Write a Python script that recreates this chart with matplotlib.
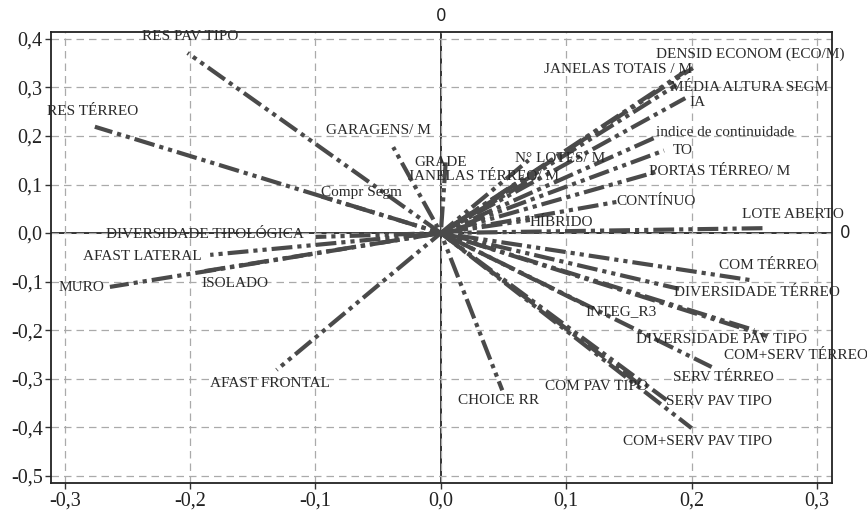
import numpy as np
import matplotlib
matplotlib.use('Agg')
import matplotlib.pyplot as plt
from matplotlib.ticker import FuncFormatter

# variable loadings (component 1, component 2)
variables = [
    'RES PAV TIPO', 'RES TÉRREO', 'Compr Segm', 'GARAGENS/ M', 'GRADE',
    'N° LOTES/ M', 'JANELAS TÉRREO/ M', 'DENSID ECONOM (ECO/M)', 'JANELAS TOTAIS / M',
    'MÉDIA ALTURA SEGM', 'IA', 'indice de continuidade', 'TO', 'PORTAS TÉRREO/ M',
    'CONTÍNUO', 'HÍBRIDO', 'LOTE ABERTO', 'DIVERSIDADE TIPOLÓGICA', 'AFAST LATERAL',
    'MURO', 'ISOLADO', 'AFAST FRONTAL', 'CHOICE RR', 'COM TÉRREO', 'DIVERSIDADE TÉRREO',
    'INTEG_R3', 'DIVERSIDADE PAV TIPO', 'COM+SERV TÉRREO', 'SERV TÉRREO',
    'COM PAV TIPO', 'SERV PAV TIPO', 'COM+SERV PAV TIPO',
]
comp1 = [-0.202, -0.276, -0.095, -0.038, 0.004, 0.070, 0.075, 0.201, 0.195,
         0.188, 0.195, 0.172, 0.178, 0.172, 0.140, 0.071, 0.257, -0.100, -0.184,
         -0.264, -0.192, -0.131, 0.049, 0.247, 0.190, 0.115, 0.250, 0.260, 0.216,
         0.159, 0.180, 0.200]
comp2 = [0.371, 0.219, 0.075, 0.177, 0.150, 0.150, 0.115, 0.340, 0.333,
         0.305, 0.278, 0.198, 0.170, 0.126, 0.064, 0.027, 0.010, -0.008, -0.045,
         -0.111, -0.080, -0.282, -0.324, -0.097, -0.115, -0.148, -0.200, -0.212, -0.276,
         -0.313, -0.344, -0.402]

# label anchors (x, y, horizontal alignment)
label_pos = [
    (-0.200, 0.404, 'center'), (-0.278, 0.250, 'center'), (-0.063, 0.084, 'center'),
    (-0.050, 0.212, 'center'), (0.000, 0.145, 'center'), (0.095, 0.154, 'center'),
    (0.034, 0.116, 'center'), (0.247, 0.368, 'center'), (0.141, 0.336, 'center'),
    (0.246, 0.300, 'center'), (0.198, 0.270, 'left'), (0.172, 0.208, 'left'),
    (0.185, 0.170, 'left'), (0.166, 0.127, 'left'), (0.140, 0.066, 'left'),
    (0.071, 0.022, 'left'), (0.281, 0.038, 'center'), (-0.188, -0.002, 'center'),
    (-0.238, -0.048, 'center'), (-0.287, -0.112, 'center'), (-0.164, -0.104, 'center'),
    (-0.136, -0.310, 'center'), (0.046, -0.346, 'center'), (0.261, -0.067, 'center'),
    (0.252, -0.122, 'center'), (0.144, -0.162, 'center'), (0.224, -0.219, 'center'),
    (0.283, -0.253, 'center'), (0.225, -0.297, 'center'), (0.124, -0.316, 'center'),
    (0.180, -0.348, 'left'), (0.205, -0.429, 'center'),
]

xticks = [-0.3, -0.2, -0.1, 0.0, 0.1, 0.2, 0.3]
yticks = [-0.5, -0.4, -0.3, -0.2, -0.1, 0.0, 0.1, 0.2, 0.3, 0.4]

serif = 'Liberation Serif'

fig = plt.figure(figsize=(8.67, 5.18), dpi=100)
ax = fig.add_axes([0.0588, 0.0676, 0.9008, 0.8704])

ax.set_xlim(-0.311, 0.312)
ax.set_ylim(-0.515, 0.414)
ax.set_xticks(xticks)
ax.set_yticks(yticks)
fmt = FuncFormatter(lambda v, p: f'{v:.1f}'.replace('.', ',').replace('-0,0', '0,0'))
ax.xaxis.set_major_formatter(fmt)
ax.yaxis.set_major_formatter(fmt)
for lab in ax.get_xticklabels() + ax.get_yticklabels():
    lab.set_fontfamily(serif)
    lab.set_fontsize(14.5)
    lab.set_color('#222222')
ax.tick_params(length=4, width=1, color='#333333', pad=2)

ax.grid(True, linestyle=(0, (6, 4)), color='#aaaaaa', linewidth=0.9, zorder=0)
for s in ax.spines.values():
    s.set_linewidth(1.3)
    s.set_color('#222222')

# zero reference lines
ax.axhline(0, color='#111111', linewidth=1.2, zorder=1)
ax.axvline(0, color='#111111', linewidth=1.2, zorder=1)
ax.text(0.0, 1.015, '0', transform=ax.get_xaxis_transform(), ha='center', va='bottom',
        fontsize=12, family='DejaVu Sans', color='#222222')
ax.text(1.01, 0.0, '0', transform=ax.get_yaxis_transform(), ha='left', va='center',
        fontsize=12, family='DejaVu Sans', color='#222222')

# loading vectors, dash phase shifted per line so they don't sync at the origin
for i, (x, y) in enumerate(zip(comp1, comp2)):
    ax.plot([0, x], [0, y], color='#4a4a4a', linewidth=3.0,
            linestyle=((i * 2.3) % 11.6, (5, 1.2, 1, 1.2, 1, 1.2)),
            solid_capstyle='butt', zorder=2)

for name, (lx, ly, ha) in zip(variables, label_pos):
    ax.text(lx, ly, name, ha=ha, va='center', fontsize=11, family=serif,
            color='#2a2a2a', zorder=3)

fig.savefig('out.png', dpi=100)
